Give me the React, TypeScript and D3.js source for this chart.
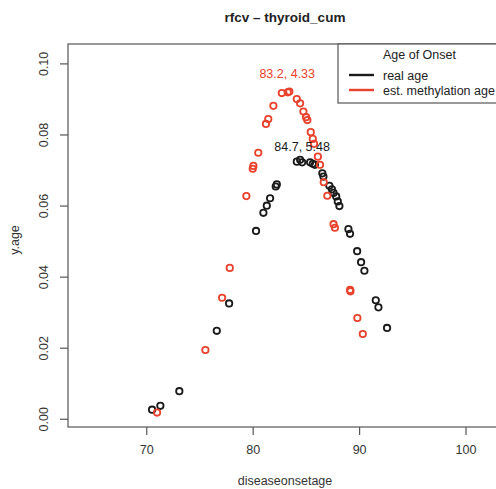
import React from "react";
import * as d3 from "d3";

const W = 496;
const H = 489;

const title = "rfcv \u2013 thyroid_cum";
const xLabel = "diseaseonsetage";
const yLabel = "y.age";
const xTicks = [70, 80, 90, 100];
const yTicks = [0.0, 0.02, 0.04, 0.06, 0.08, 0.1];

const realX = [70.5, 71.28, 73.06, 76.58, 77.74, 80.27, 80.96, 81.28, 81.59, 82.12, 82.22, 84.1, 84.41, 84.6, 85.35, 85.6, 85.8, 86.5, 86.6, 87.16, 87.4, 87.55, 87.8, 87.95, 88.1, 88.95, 89.1, 89.77, 90.14, 90.45, 91.52, 91.77, 92.58];
const realY = [0.0027, 0.0038, 0.0079, 0.0249, 0.0326, 0.053, 0.0581, 0.0601, 0.0622, 0.0655, 0.0661, 0.0725, 0.073, 0.0723, 0.0723, 0.0719, 0.0716, 0.0692, 0.0683, 0.0657, 0.0647, 0.0637, 0.0627, 0.0613, 0.06, 0.0535, 0.0522, 0.0473, 0.0442, 0.0418, 0.0335, 0.0315, 0.0257];

const estX = [70.97, 75.51, 77.08, 77.8, 79.36, 79.96, 80.02, 80.48, 81.2, 81.42, 81.9, 82.69, 83.25, 83.4, 84.1, 84.41, 84.72, 84.97, 85.09, 85.41, 85.6, 85.72, 86.08, 86.28, 86.63, 86.97, 87.55, 87.68, 89.11, 89.14, 89.79, 90.3];
const estY = [0.0019, 0.0195, 0.0342, 0.0426, 0.0628, 0.0705, 0.0713, 0.075, 0.0831, 0.0845, 0.0882, 0.0918, 0.092, 0.0922, 0.0901, 0.0889, 0.0866, 0.085, 0.0842, 0.0808, 0.0789, 0.0775, 0.0739, 0.0716, 0.0667, 0.0629, 0.0549, 0.0539, 0.0364, 0.036, 0.0285, 0.024];

const peakLabels = [
  { text: "83.2, 4.33", x: 83.2, y: 0.0971, color: "#e8412c" },
  { text: "84.7, 5.48", x: 84.6, y: 0.0766, color: "#1a1a1a" },
];

const legendTitle = "Age of Onset";
const legendItems = [
  { label: "real age", color: "#1a1a1a" },
  { label: "est. methylation age", color: "#e8412c" },
];

const BLACK = "#1a1a1a";
const RED = "#e8412c";
const FONT = "'Liberation Sans', Arial, Helvetica, sans-serif";

export default function App() {
  const x = d3.scaleLinear().domain([62.6, 109.3]).range([68, 565]);
  const y = d3.scaleLinear().domain([-0.00217, 0.1056]).range([427, 44]);
  const [x0, x1] = x.range();
  const [yb, yt] = y.range();
  const axisColor = "#555";

  return (
    <svg width={W} height={H} style={{ position: "absolute", left: 0, top: 0, background: "#fff" }} fontFamily={FONT}>
      <rect x={0} y={0} width={W} height={H} fill="#fff" />
      <text x={285} y={22} textAnchor="middle" fontWeight="bold" fontSize={13.5} fill="#222">{title}</text>

      {/* plot box */}
      <rect x={x0} y={yt} width={x1 - x0} height={yb - yt} fill="none" stroke={axisColor} strokeWidth={1.2} />

      {/* x axis */}
      {xTicks.map((t) => (
        <g key={"xt" + t}>
          <line x1={x(t)} x2={x(t)} y1={yb} y2={yb + 8} stroke={axisColor} strokeWidth={1.2} />
          <text x={x(t)} y={yb + 27} textAnchor="middle" fontSize={12.5} fill="#333">{t}</text>
        </g>
      ))}
      <text x={285} y={485} textAnchor="middle" fontSize={12.5} fill="#333">{xLabel}</text>

      {/* y axis */}
      {yTicks.map((t) => (
        <g key={"yt" + t}>
          <line x1={x0 - 8} x2={x0} y1={y(t)} y2={y(t)} stroke={axisColor} strokeWidth={1.2} />
          <text transform={`translate(${48},${y(t)}) rotate(-90)`} textAnchor="middle" fontSize={12.5} fill="#333">{d3.format(".2f")(t)}</text>
        </g>
      ))}
      <text transform={`translate(${19},${240}) rotate(-90)`} textAnchor="middle" fontSize={12.5} fill="#333">{yLabel}</text>

      {/* points */}
      {realX.map((v, i) => (
        <circle key={"r" + i} cx={x(v)} cy={y(realY[i])} r={3.2} fill="none" stroke={BLACK} strokeWidth={1.8} />
      ))}
      {estX.map((v, i) => (
        <circle key={"e" + i} cx={x(v)} cy={y(estY[i])} r={3.2} fill="none" stroke={RED} strokeWidth={1.8} />
      ))}

      {/* peak labels */}
      {peakLabels.map((p) => (
        <text key={p.text} x={x(p.x)} y={y(p.y) + 4} textAnchor="middle" fontSize={12.5} fill={p.color}>{p.text}</text>
      ))}

      {/* legend */}
      <rect x={338} y={yt} width={200} height={59} fill="#fff" stroke={axisColor} strokeWidth={1.2} />
      <text x={383} y={59} fontSize={12.5} fill="#222">{legendTitle}</text>
      {legendItems.map((it, i) => (
        <g key={it.label}>
          <line x1={349} x2={374} y1={75 + i * 15} y2={75 + i * 15} stroke={it.color} strokeWidth={2.4} />
          <text x={383} y={79.5 + i * 15} fontSize={12.5} fill="#222">{it.label}</text>
        </g>
      ))}
    </svg>
  );
}
